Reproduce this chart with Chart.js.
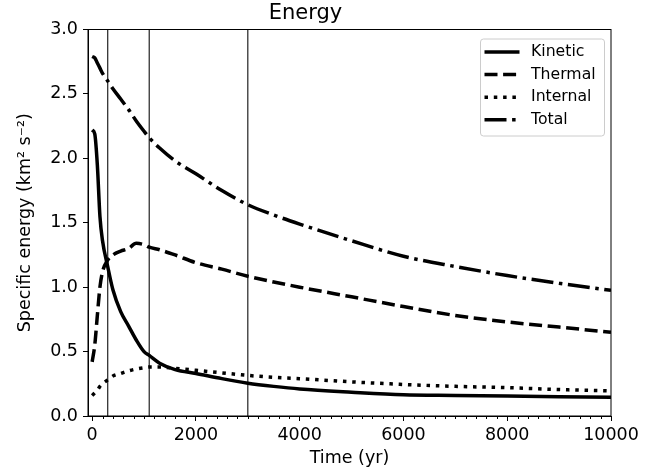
<!DOCTYPE html>
<html lang="en">
<head>
<meta charset="UTF-8">
<title>Energy</title>
<script src="https://cdn.jsdelivr.net/npm/chart.js"></script>
<style>
body {
    margin: 0;
    padding: 0;
    background: #fff;
}
#wrap {
    width: 665px;
    height: 476px;
}
</style>
</head>
<body>
<div id="wrap"><canvas id="energyChart" width="665" height="476"></canvas></div>
<script>
// time in yr, energies in km^2 s^-2
const times    = [0, 50, 100, 150, 200, 300, 400, 550, 700, 850, 1000, 1100, 1300, 1600, 2000, 2500, 3000, 3500, 4000, 5000, 6000, 7000, 8000, 9000, 10000];
const kinetic  = [2.22, 2.19, 1.95, 1.55, 1.36, 1.16, 0.98, 0.81, 0.70, 0.59, 0.50, 0.47, 0.41, 0.36, 0.33, 0.29, 0.255, 0.23, 0.21, 0.185, 0.165, 0.16, 0.155, 0.15, 0.145];
const thermal  = [0.42, 0.55, 0.78, 1.00, 1.12, 1.21, 1.25, 1.28, 1.30, 1.34, 1.33, 1.31, 1.29, 1.25, 1.19, 1.14, 1.085, 1.04, 1.00, 0.925, 0.85, 0.78, 0.73, 0.69, 0.65];
const internal = [0.16, 0.18, 0.20, 0.23, 0.25, 0.28, 0.31, 0.33, 0.35, 0.365, 0.375, 0.38, 0.38, 0.37, 0.355, 0.335, 0.315, 0.30, 0.29, 0.265, 0.245, 0.23, 0.22, 0.205, 0.195];
const total    = [2.79, 2.78, 2.74, 2.70, 2.66, 2.60, 2.54, 2.46, 2.38, 2.29, 2.21, 2.16, 2.08, 1.98, 1.88, 1.75, 1.64, 1.56, 1.49, 1.36, 1.24, 1.16, 1.09, 1.03, 0.975];

const seriesNames = ["Kinetic", "Thermal", "Internal", "Total"];
const vlineTimes = [300, 1100, 3000];
const xTicks = [0, 2000, 4000, 6000, 8000, 10000];
const yTicks = [0.0, 0.5, 1.0, 1.5, 2.0, 2.5, 3.0];
const minorStep = 200;

const FONT = "'DejaVu Sans', 'Liberation Sans', sans-serif";
const LW = 3.5;

function pts(ys) {
    return times.map((t, i) => ({ x: t, y: ys[i] }));
}

function curve(label, ys, dash) {
    return {
        label: label,
        data: pts(ys),
        borderColor: "#000",
        borderWidth: LW,
        borderDash: dash,
        borderCapStyle: "butt",
        pointRadius: 0,
        fill: false,
        cubicInterpolationMode: "monotone",
        order: 1
    };
}

const datasets = [
    curve(seriesNames[0], kinetic, []),
    curve(seriesNames[1], thermal, [13, 5.6]),
    curve(seriesNames[2], internal, [3.5, 5.8]),
    curve(seriesNames[3], total, [22, 5.6, 3.5, 5.6])
];

vlineTimes.forEach(t => {
    datasets.push({
        label: "",
        isVline: true,
        data: [{ x: t, y: yTicks[0] }, { x: t, y: yTicks[yTicks.length - 1] }],
        borderColor: "#222",
        borderWidth: 1.2,
        pointRadius: 0,
        fill: false,
        order: 10
    });
});

// box around the plot + minor ticks on the x axis
const framePlugin = {
    id: "frame",
    afterDraw(chart) {
        const { ctx, chartArea: a } = chart;
        const xs = chart.scales.x;
        ctx.save();
        ctx.strokeStyle = "#000";
        ctx.lineWidth = 1;
        ctx.strokeRect(a.left, a.top, a.right - a.left, a.bottom - a.top);
        ctx.beginPath();
        for (let v = 0; v <= xs.max; v += minorStep) {
            if (v % 2000 === 0) continue;
            const px = Math.round(xs.getPixelForValue(v)) + 0.5;
            ctx.moveTo(px, a.bottom);
            ctx.lineTo(px, a.bottom + 3);
        }
        ctx.stroke();
        ctx.restore();
    }
};

// matplotlib-style legend in the upper right corner
const legendPlugin = {
    id: "boxLegend",
    afterDraw(chart) {
        const { ctx, chartArea: a } = chart;
        const items = chart.data.datasets.filter(d => !d.isVline);
        const bx = a.right - 131, by = a.top + 9, bw = 124, bh = 97;
        ctx.save();
        ctx.fillStyle = "rgba(255,255,255,0.8)";
        ctx.strokeStyle = "#cccccc";
        ctx.lineWidth = 1;
        ctx.beginPath();
        ctx.roundRect(bx + 0.5, by + 0.5, bw, bh, 3);
        ctx.fill();
        ctx.stroke();
        ctx.font = "15.7px " + FONT;
        ctx.textBaseline = "middle";
        ctx.fillStyle = "#000";
        items.forEach((d, i) => {
            const y = by + 13.5 + i * 22.6;
            ctx.beginPath();
            ctx.strokeStyle = "#000";
            ctx.lineWidth = LW;
            ctx.lineCap = "butt";
            ctx.setLineDash(d.borderDash);
            ctx.moveTo(bx + 4.5, y);
            ctx.lineTo(bx + 39.5, y);
            ctx.stroke();
            ctx.setLineDash([]);
            ctx.fillText(d.label, bx + 51, y);
        });
        ctx.restore();
    }
};

new Chart(document.getElementById("energyChart").getContext("2d"), {
    type: "line",
    data: { datasets: datasets },
    options: {
        responsive: false,
        animation: false,
        devicePixelRatio: 1,
        layout: { padding: { left: 0, right: 54, top: 0, bottom: 0 } },
        plugins: {
            legend: { display: false },
            tooltip: { enabled: false },
            title: {
                display: true,
                text: "Energy",
                color: "#000",
                font: { family: FONT, size: 21, weight: "normal" },
                padding: { top: 1.3, bottom: 3 }
            }
        },
        scales: {
            x: {
                type: "linear",
                min: -80,
                max: 10000,
                afterFit(scale) { scale.height = 60; },
                afterBuildTicks(scale) { scale.ticks = xTicks.map(v => ({ value: v })); },
                grid: { drawOnChartArea: false, drawTicks: true, tickLength: 5, color: "#000" },
                border: { display: true, color: "#000", width: 1 },
                ticks: {
                    color: "#000",
                    padding: 4,
                    maxRotation: 0,
                    autoSkip: false,
                    font: { family: FONT, size: 17.5 },
                    callback: v => String(v)
                },
                title: {
                    display: true,
                    text: "Time (yr)",
                    color: "#000",
                    font: { family: FONT, size: 17.5 },
                    padding: { top: 0, bottom: 7.5 }
                }
            },
            y: {
                min: 0,
                max: 3,
                afterFit(scale) { scale.width = 88; },
                afterBuildTicks(scale) { scale.ticks = yTicks.map(v => ({ value: v })); },
                grid: { drawOnChartArea: false, drawTicks: true, tickLength: 5, color: "#000" },
                border: { display: true, color: "#000", width: 1 },
                ticks: {
                    color: "#000",
                    padding: 5,
                    font: { family: FONT, size: 17.5 },
                    callback: v => Number(v).toFixed(1)
                },
                title: {
                    display: true,
                    text: "Specific energy (km\u00b2 s\u207b\u00b2)",
                    color: "#000",
                    font: { family: FONT, size: 17.5 },
                    padding: { top: 15, bottom: 0 }
                }
            }
        }
    },
    plugins: [framePlugin, legendPlugin]
});
</script>
</body>
</html>
